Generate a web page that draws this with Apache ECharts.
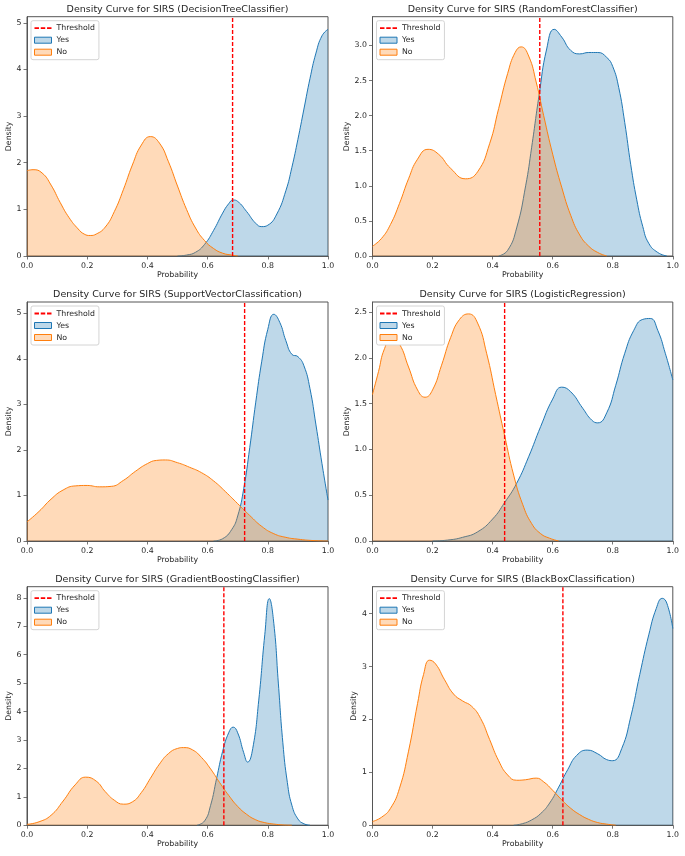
<!DOCTYPE html>
<html><head><meta charset="utf-8">
<script src="https://cdn.jsdelivr.net/npm/echarts@6/dist/echarts.min.js"></script>
<style>html,body{margin:0;padding:0;background:#fff}#c{width:685px;height:856px}</style>
</head><body><div id="c"></div>
<script>
// ---------------- data ----------------
const titles = [
  'Density Curve for SIRS (DecisionTreeClassifier)',
  'Density Curve for SIRS (RandomForestClassifier)',
  'Density Curve for SIRS (SupportVectorClassification)',
  'Density Curve for SIRS (LogisticRegression)',
  'Density Curve for SIRS (GradientBoostingClassifier)',
  'Density Curve for SIRS (BlackBoxClassification)'
];
const thresholds = [0.683, 0.557, 0.723, 0.44, 0.654, 0.634];
const yMax = [5.13, 3.41, 5.25, 2.61, 8.39, 4.51];
const xTicks = [0, 0.2, 0.4, 0.6, 0.8, 1.0];
const yTicks = [
  [0,1,2,3,4,5],
  [0,0.5,1,1.5,2,2.5,3],
  [0,1,2,3,4,5],
  [0,0.5,1,1.5,2,2.5],
  [0,1,2,3,4,5,6,7,8],
  [0,1,2,3,4]
];
const yTickDecimals = [0,1,0,1,0,0];

const dtYes = [[0.50,0],[0.53,0.02],[0.56,0.08],[0.59,0.25],[0.62,0.55],[0.65,0.92],[0.67,1.12],[0.685,1.2],[0.70,1.17],[0.73,0.95],[0.76,0.70],[0.78,0.63],[0.80,0.66],[0.83,0.90],[0.86,1.40],[0.88,1.90],[0.90,2.50],[0.92,3.15],[0.94,3.80],[0.96,4.35],[0.98,4.72],[1.0,4.86]];
const dtNo = [[0,1.83],[0.02,1.85],[0.05,1.78],[0.08,1.52],[0.11,1.15],[0.14,0.82],[0.17,0.58],[0.19,0.47],[0.21,0.44],[0.23,0.47],[0.26,0.62],[0.29,0.95],[0.32,1.42],[0.35,1.95],[0.38,2.38],[0.41,2.56],[0.44,2.42],[0.47,2.02],[0.50,1.50],[0.53,1.00],[0.56,0.60],[0.59,0.33],[0.62,0.16],[0.65,0.06],[0.68,0.02],[0.70,0]];

const rfYes = [[0.42,0],[0.45,0.08],[0.48,0.40],[0.51,1.0],[0.53,1.55],[0.555,2.30],[0.58,2.95],[0.605,3.23],[0.63,3.12],[0.66,2.93],[0.69,2.88],[0.72,2.90],[0.75,2.90],[0.78,2.83],[0.80,2.70],[0.82,2.40],[0.84,1.90],[0.86,1.30],[0.88,0.80],[0.90,0.42],[0.92,0.18],[0.95,0.05],[0.98,0]];
const rfNo = [[0,0.14],[0.03,0.25],[0.06,0.45],[0.09,0.75],[0.12,1.10],[0.15,1.38],[0.185,1.52],[0.22,1.45],[0.26,1.25],[0.31,1.10],[0.35,1.20],[0.39,1.60],[0.42,2.10],[0.45,2.60],[0.475,2.90],[0.495,2.98],[0.52,2.85],[0.545,2.48],[0.57,2.0],[0.60,1.45],[0.63,0.98],[0.66,0.58],[0.69,0.30],[0.72,0.14],[0.75,0.05],[0.78,0]];

const svcYes = [[0.62,0],[0.65,0.05],[0.68,0.25],[0.70,0.55],[0.72,1.15],[0.74,2.05],[0.76,3.05],[0.78,3.95],[0.80,4.65],[0.82,4.98],[0.84,4.80],[0.86,4.40],[0.88,4.10],[0.90,4.05],[0.92,3.85],[0.94,3.35],[0.96,2.55],[0.98,1.70],[1.0,0.90]];
const svcNo = [[0,0.42],[0.04,0.65],[0.08,0.92],[0.12,1.12],[0.16,1.21],[0.20,1.22],[0.24,1.19],[0.28,1.20],[0.32,1.33],[0.36,1.53],[0.40,1.70],[0.43,1.77],[0.46,1.78],[0.50,1.72],[0.54,1.62],[0.58,1.50],[0.62,1.32],[0.66,1.08],[0.70,0.82],[0.74,0.56],[0.78,0.32],[0.82,0.16],[0.86,0.08],[0.90,0.04],[0.95,0.01],[1.0,0]];

const lrYes = [[0.20,0],[0.25,0.01],[0.30,0.04],[0.35,0.10],[0.40,0.24],[0.44,0.42],[0.48,0.63],[0.52,0.92],[0.56,1.25],[0.60,1.55],[0.63,1.68],[0.66,1.63],[0.70,1.45],[0.73,1.32],[0.75,1.29],[0.78,1.40],[0.81,1.70],[0.84,2.05],[0.87,2.30],[0.90,2.42],[0.925,2.43],[0.95,2.30],[0.975,2.05],[1.0,1.76]];
const lrNo = [[0,1.60],[0.02,1.85],[0.04,2.10],[0.065,2.22],[0.09,2.15],[0.12,1.90],[0.15,1.65],[0.175,1.57],[0.20,1.65],[0.23,1.92],[0.26,2.22],[0.29,2.42],[0.32,2.48],[0.35,2.38],[0.38,2.05],[0.41,1.60],[0.44,1.15],[0.47,0.72],[0.50,0.40],[0.53,0.19],[0.56,0.08],[0.59,0.03],[0.62,0]];

const gbYes = [[0.565,0],[0.59,0.15],[0.61,0.70],[0.63,1.65],[0.65,2.60],[0.67,3.25],[0.685,3.45],[0.70,3.25],[0.72,2.55],[0.733,2.22],[0.75,2.70],[0.77,4.40],[0.79,6.70],[0.805,7.97],[0.82,7.10],[0.835,5.00],[0.85,2.90],[0.865,1.50],[0.88,0.70],[0.90,0.22],[0.92,0.05],[0.94,0]];
const gbNo = [[0,0.03],[0.04,0.12],[0.08,0.35],[0.12,0.85],[0.16,1.42],[0.195,1.69],[0.23,1.55],[0.26,1.18],[0.29,0.88],[0.32,0.74],[0.35,0.82],[0.38,1.15],[0.41,1.65],[0.44,2.15],[0.47,2.52],[0.50,2.70],[0.52,2.73],[0.55,2.65],[0.58,2.38],[0.61,1.98],[0.64,1.50],[0.67,1.05],[0.70,0.66],[0.73,0.38],[0.76,0.19],[0.79,0.09],[0.82,0.04],[0.85,0.01],[0.88,0]];

const bbYes = [[0.47,0],[0.50,0.03],[0.53,0.10],[0.56,0.22],[0.59,0.42],[0.62,0.72],[0.65,1.05],[0.68,1.32],[0.715,1.42],[0.75,1.35],[0.78,1.24],[0.80,1.22],[0.83,1.45],[0.86,2.05],[0.89,2.85],[0.92,3.60],[0.945,4.10],[0.965,4.29],[0.98,4.20],[1.0,3.72]];
const bbNo = [[0,0.07],[0.03,0.15],[0.06,0.32],[0.09,0.70],[0.12,1.40],[0.15,2.30],[0.17,2.85],[0.19,3.12],[0.21,3.05],[0.24,2.75],[0.27,2.48],[0.30,2.35],[0.33,2.25],[0.36,2.02],[0.39,1.62],[0.42,1.22],[0.45,0.95],[0.48,0.85],[0.51,0.86],[0.545,0.89],[0.57,0.82],[0.60,0.66],[0.63,0.48],[0.66,0.32],[0.69,0.20],[0.72,0.11],[0.75,0.05],[0.78,0.02],[0.81,0]];

const yesSeries = [dtYes, rfYes, svcYes, lrYes, gbYes, bbYes];
const noSeries = [dtNo, rfNo, svcNo, lrNo, gbNo, bbNo];

// ---------------- layout / style ----------------
const F = 'DejaVu Sans';
const TXT = '#262626';
const AX = '#555';
const BLUE = '#1f77b4', ORANGE = '#ff7f0e';
const BLUE_FILL = 'rgba(31,119,180,0.29)', ORANGE_FILL = 'rgba(255,127,14,0.29)';
const colLeft = [27, 372.5];
const colWidth = [301, 300.3];
const rowTop = [16.7, 302, 586.7];
const rowHeight = [239.3, 239, 238.5];
const yNameGap = [14, 22, 14, 22, 14, 15];

const grids = [], xAxes = [], yAxes = [], series = [], legends = [], graphics = [];
for (let i = 0; i < 6; i++) {
  const r = Math.floor(i / 2), c = i % 2;
  const g = {left: colLeft[c], top: rowTop[r], width: colWidth[c], height: rowHeight[r]};
  grids.push(Object.assign({show: true, borderColor: AX, borderWidth: 1, backgroundColor: '#fff', containLabel: false, outerBoundsMode: 'none'}, g));
  xAxes.push({
    type: 'value', gridIndex: i, min: 0, max: 1, interval: 0.2,
    name: 'Probability', nameLocation: 'middle', nameGap: 15,
    nameTextStyle: {fontFamily: F, fontSize: 7.8, color: TXT},
    axisLine: {show: true, lineStyle: {color: AX, width: 1}},
    axisTick: {show: true, length: 3.5, lineStyle: {color: AX, width: 0.8}},
    axisLabel: {fontFamily: F, fontSize: 7.8, color: TXT, margin: 5.5,
      formatter: v => v.toFixed(1)},
    splitLine: {show: false}
  });
  const dec = yTickDecimals[i];
  yAxes.push({
    type: 'value', gridIndex: i, min: 0, max: yMax[i],
    name: 'Density', nameLocation: 'middle', nameGap: yNameGap[i],
    nameTextStyle: {fontFamily: F, fontSize: 7.8, color: TXT},
    axisLine: {show: true, lineStyle: {color: AX, width: 1}},
    axisTick: {show: true, length: 3.5, lineStyle: {color: AX, width: 0.8}, customValues: yTicks[i]},
    axisLabel: {fontFamily: F, fontSize: 7.8, color: TXT, margin: 5.5, customValues: yTicks[i],
      formatter: v => Number(v).toFixed(dec)},
    splitLine: {show: false}
  });
  series.push({
    type: 'line', name: 'Yes', xAxisIndex: i, yAxisIndex: i, data: yesSeries[i],
    symbol: 'none', smooth: 0.5, silent: true, z: 2,
    lineStyle: {color: BLUE, width: 1}, itemStyle: {color: BLUE},
    areaStyle: {color: BLUE_FILL, opacity: 1}
  });
  series.push({
    type: 'line', name: 'No', xAxisIndex: i, yAxisIndex: i, data: noSeries[i],
    symbol: 'none', smooth: 0.5, silent: true, z: 3,
    lineStyle: {color: ORANGE, width: 1}, itemStyle: {color: ORANGE},
    areaStyle: {color: ORANGE_FILL, opacity: 1}
  });
  series.push({
    type: 'line', name: 'Threshold', xAxisIndex: i, yAxisIndex: i,
    data: [[thresholds[i], 0], [thresholds[i], yMax[i]]],
    symbol: 'none', silent: true, z: 5,
    lineStyle: {color: 'red', width: 1.4, type: [4, 2]}, itemStyle: {color: 'red'}
  });
  legends.push({
    left: g.left + 4, top: g.top + 4, orient: 'vertical', selectedMode: false,
    backgroundColor: '#fff', borderColor: '#d4d4d4', borderWidth: 1, borderRadius: 2,
    padding: [3, 4, 3, 3], itemWidth: 17, itemHeight: 6, itemGap: 3,
    textStyle: {fontFamily: F, fontSize: 7.8, color: TXT, lineHeight: 9},
    data: [
      {name: 'Threshold', icon: 'path://M0,0H5V2H0Z M7,0H12V2H7Z M14,0H19V2H14Z', itemStyle: {color: 'red', borderWidth: 0}},
      {name: 'Yes', icon: 'rect', itemStyle: {color: BLUE_FILL, borderColor: BLUE, borderWidth: 1}},
      {name: 'No', icon: 'rect', itemStyle: {color: ORANGE_FILL, borderColor: ORANGE, borderWidth: 1}}
    ]
  });
  graphics.push({
    type: 'text', x: g.left + g.width / 2, y: g.top - 7.5, silent: true,
    style: {text: titles[i], fontFamily: F, fontSize: 9.5, fill: TXT, align: 'center', verticalAlign: 'middle'}
  });
}

const chart = echarts.init(document.getElementById('c'), null, {renderer: 'canvas'});
chart.setOption({
  animation: false,
  backgroundColor: '#fff',
  grid: grids, xAxis: xAxes, yAxis: yAxes, series: series, legend: legends,
  graphic: graphics
});
</script>
</body></html>
